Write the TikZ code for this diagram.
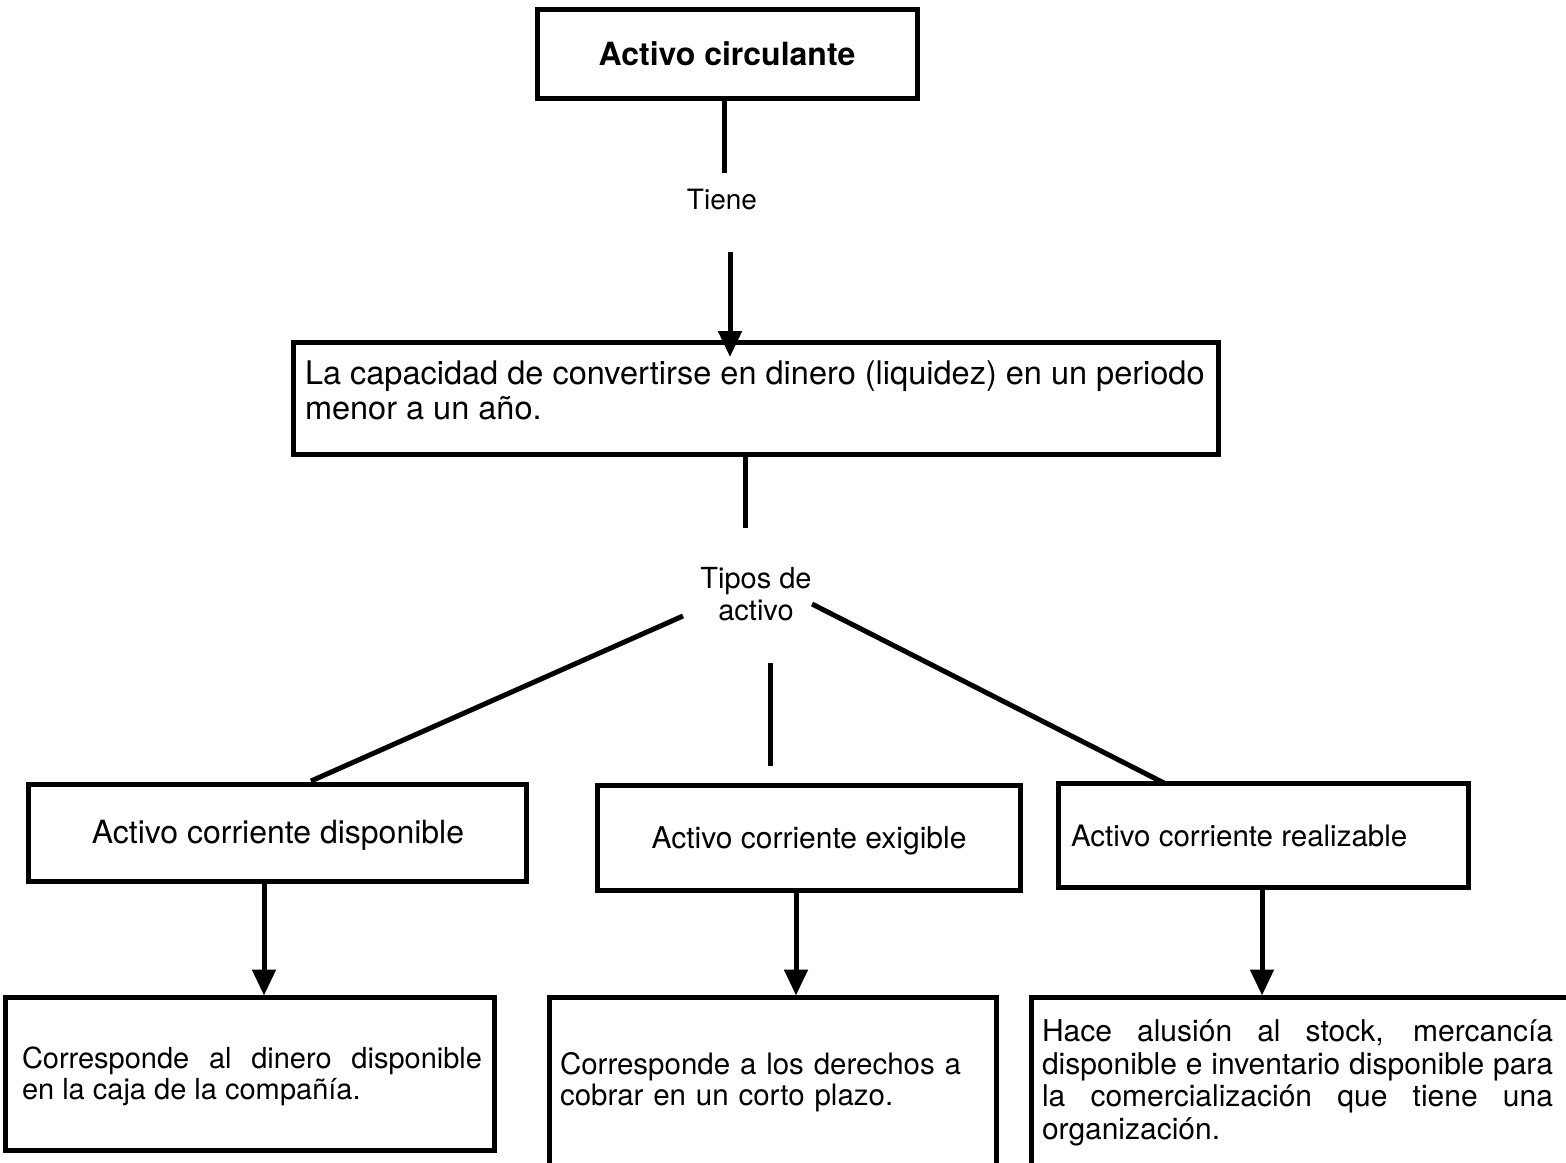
\documentclass[tikz,border=0pt]{standalone}
\usepackage{fontspec}
\setmainfont{TeX Gyre Heros}
\usetikzlibrary{arrows.meta}
\tolerance=10000
\hbadness=10000
\begin{document}
\begin{tikzpicture}[x=1pt,y=-1pt,
  box/.style={draw, line width=5pt, inner sep=0pt, outer sep=0pt, anchor=north west},
  lbl/.style={inner sep=0pt, outer sep=0pt},
  conn/.style={line width=5pt},
  arr/.style={line width=5pt, -{Triangle[width=23pt,length=26pt]}}
]
\useasboundingbox (0,0) rectangle (1566,1162);
\clip (0,0) rectangle (1566,1162);
\fill[white] (0,0) rectangle (1566,1162);

% boxes
\node[box, minimum width=380pt, minimum height=89pt]  (b1) at (537.5,9.5) {};
\node[box, minimum width=925pt, minimum height=112pt] (b2) at (293.5,342.5) {};
\node[box, minimum width=498pt, minimum height=97pt]  (b3) at (28.5,784.5) {};
\node[box, minimum width=423pt, minimum height=105pt] (b4) at (597.5,785.5) {};
\node[box, minimum width=410pt, minimum height=104pt] (b5) at (1058.5,783.5) {};
\node[box, minimum width=489pt, minimum height=153pt] (b6) at (5.5,997.5) {};
\node[box, minimum width=447pt, minimum height=200pt] (b7) at (549.5,997.5) {};
\node[box, minimum width=600pt, minimum height=200pt] (b8) at (1031.5,997.5) {};

% texts
\node[lbl, font=\fontsize{32}{35}\selectfont\bfseries, anchor=base] (t1) at (727,65) {Activo circulante};
\node[lbl, font=\fontsize{28}{30}\selectfont, anchor=base] (tiene) at (722,209) {Tiene};
\node[lbl, font=\fontsize{32.5}{35}\selectfont, align=left, anchor=north west] (t2) at (305,361)
  {La capacidad de convertirse en dinero (liquidez) en un periodo\\menor a un año.};
\node[lbl, font=\fontsize{29}{32}\selectfont, align=center, anchor=north] (tipos) at (756,567) {Tipos de\\activo};
\node[lbl, font=\fontsize{32}{35}\selectfont, anchor=base] (t3) at (278,843) {Activo corriente disponible};
\node[lbl, font=\fontsize{30}{33}\selectfont, anchor=base] (t4) at (809,848) {Activo corriente exigible};
\node[lbl, font=\fontsize{29.5}{33}\selectfont, anchor=base west] (t5) at (1071,846) {Activo corriente realizable};
\node[lbl, font=\fontsize{29}{31}\selectfont, text width=460pt, align=justify, anchor=north west] (t6) at (22,1047)
  {Corresponde al dinero disponible\linebreak en la caja de la compañía.};
\node[lbl, font=\fontsize{29.5}{31}\selectfont, text width=420pt, align=left, anchor=north west] (t7) at (560,1052)
  {Corresponde a los derechos a\\cobrar en un corto plazo.};
\node[lbl, font=\fontsize{30}{32.4}\selectfont, text width=511pt, align=justify, anchor=north west] (t8) at (1042,1020)
  {Hace alusión al stock, mercancía\linebreak disponible e inventario disponible para\linebreak la comercialización que tiene una\linebreak organización.};

% connectors
\coordinate (c1) at (724,173);
\draw[conn] (b1.south -| c1) -- (c1);
\coordinate (c2a) at (730,252);
\coordinate (c2b) at (730,357);
\draw[arr] (c2a) -- (c2b);
\coordinate (c3) at (745,528);
\draw[conn] (b2.south -| c3) -- (c3);
\coordinate (l1a) at (683,616);
\coordinate (l1b) at (311,781);
\draw[conn] (l1a) -- (l1b);
\coordinate (m1a) at (770,663);
\coordinate (m1b) at (770,766);
\draw[conn] (m1a) -- (m1b);
\coordinate (r1a) at (812,604);
\coordinate (r1b) at (1166,784);
\draw[conn] (r1a) -- (r1b);

\coordinate (x3) at (264,0);
\coordinate (x4) at (796,0);
\coordinate (x5) at (1262,0);
\draw[arr] (b3.south -| x3) -- ([yshift=2pt]b6.north -| x3);
\draw[arr] ([yshift=3pt]b4.south -| x4) -- ([yshift=2pt]b7.north -| x4);
\draw[arr] ([yshift=3pt]b5.south -| x5) -- ([yshift=2pt]b8.north -| x5);
\end{tikzpicture}
\end{document}
